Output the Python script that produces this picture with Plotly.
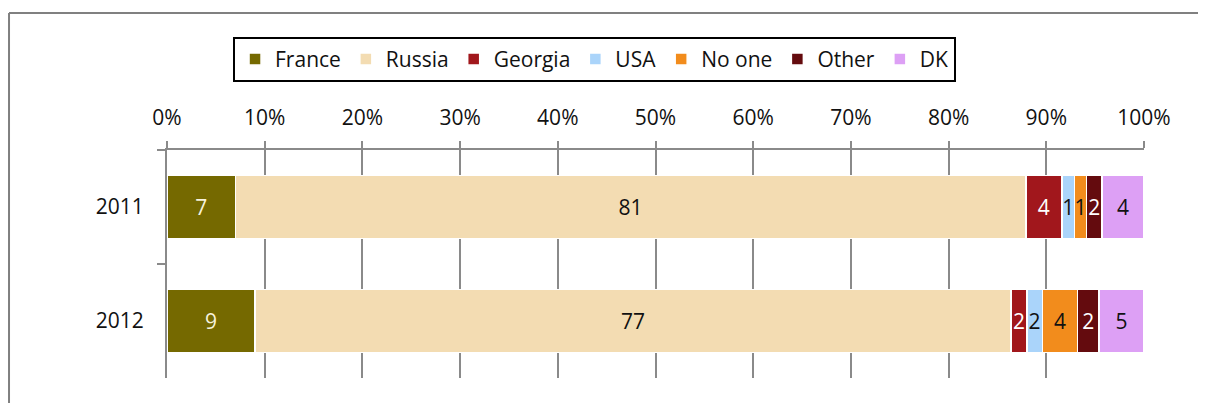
import plotly.graph_objects as go

# survey years (rows) and answer categories (stack order)
years = ["2011", "2012"]
answers = ["France", "Russia", "Georgia", "USA", "No one", "Other", "DK"]

# shares in %
france = [7.0, 9.0]
russia = [80.9, 77.4]
georgia = [3.7, 1.6]
usa = [1.3, 1.6]
no_one = [1.2, 3.6]
other = [1.6, 2.2]
dk = [4.3, 4.6]

x_ticks = [0, 10, 20, 30, 40, 50, 60, 70, 80, 90, 100]

series = [france, russia, georgia, usa, no_one, other, dk]
colors = ["#756900", "#F3DCB2", "#A1171C", "#AAD4FA", "#F28C1C", "#640B0E", "#DDA0F5"]
text_colors = ["#F7F2DC", "#111111", "#FFFFFF", "#111111", "#111111", "#FFFFFF", "#111111"]

FONT = "Open Sans"
FS = 21

fig = go.Figure()
for name, vals, col, tcol in zip(answers, series, colors, text_colors):
    fig.add_trace(go.Bar(
        y=years, x=vals, name=name, orientation="h",
        marker=dict(color=col, line=dict(color="white", width=1.5)),
        texttemplate="%{x:.0f}", textposition="inside", insidetextanchor="middle",
        textangle=0, constraintext="none",
        textfont=dict(family=FONT, size=FS, color=tcol),
    ))

# page body adds an 8px offset, so the figure is 8px smaller than the window
fig.update_layout(
    barmode="stack",
    bargap=0.45,
    width=1198, height=395,
    margin=dict(l=159, r=62, t=142, b=25),
    paper_bgcolor="white", plot_bgcolor="white",
    font=dict(family=FONT, size=FS, color="#111111"),
    legend=dict(
        orientation="h", x=0.4376, xanchor="center", y=1.496, yanchor="top",
        bordercolor="black", borderwidth=2, font=dict(size=FS),
        itemwidth=30, traceorder="normal",
    ),
    xaxis=dict(
        side="top", range=[0, 100], tickvals=x_ticks,
        ticktext=[f"{v}%" for v in x_ticks],
        ticks="outside", ticklen=7, tickcolor="#8a8a8a", tickwidth=2,
        showline=True, linecolor="#8a8a8a", linewidth=2,
        showgrid=True, gridcolor="#8a8a8a", gridwidth=2,
        zeroline=False, ticklabelstandoff=8,
    ),
    yaxis=dict(
        categoryorder="array", categoryarray=years, autorange="reversed",
        tickson="boundaries", ticks="outside", ticklen=8, tickcolor="#8a8a8a", tickwidth=2,
        showline=True, linecolor="#8a8a8a", linewidth=2,
        showgrid=False, ticklabelstandoff=17,
    ),
    shapes=[
        dict(type="line", xref="paper", yref="paper", x0=-0.1617, x1=1.2, y0=1.6009, y1=1.6009,
             line=dict(color="#808080", width=2)),
        dict(type="line", xref="paper", yref="paper", x0=-0.1617, x1=-0.1617, y0=1.6009, y1=-0.5,
             line=dict(color="#808080", width=2)),
    ],
)

fig.write_html("out.html")
